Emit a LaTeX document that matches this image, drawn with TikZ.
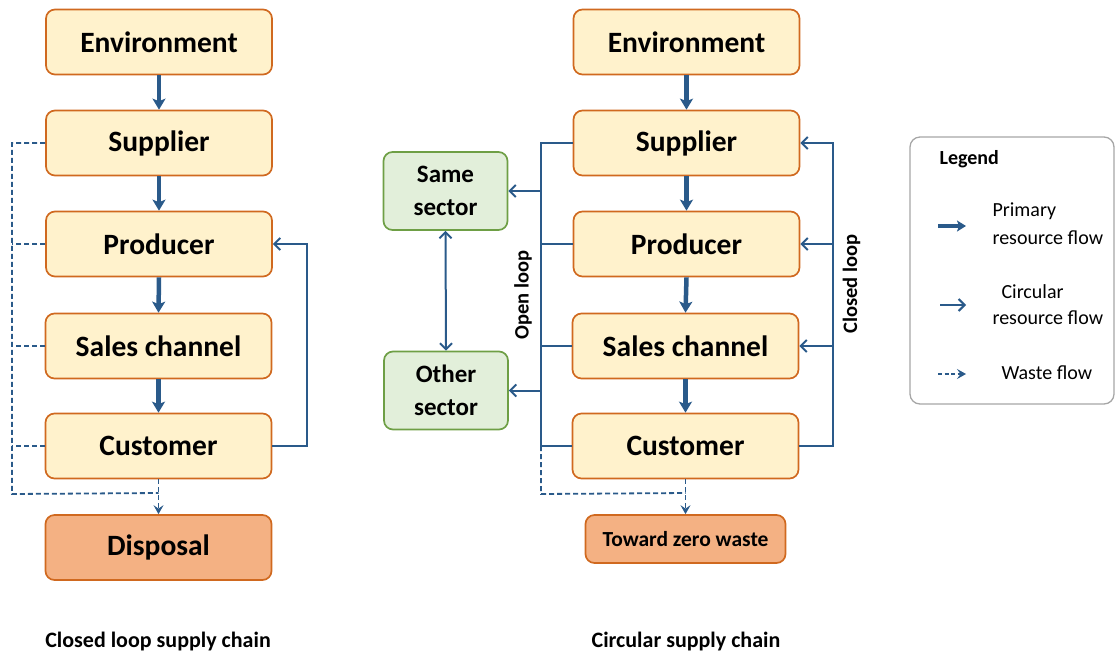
\documentclass[tikz,border=0pt]{standalone}
\usepackage{fontspec}
\setmainfont{Carlito}
\usetikzlibrary{arrows.meta,calc}
\definecolor{boxfill}{HTML}{FFF2CC}
\definecolor{boxline}{HTML}{D0691F}
\definecolor{dispfill}{HTML}{F4B183}
\definecolor{greenfill}{HTML}{E2EFDA}
\definecolor{greenline}{HTML}{6E9F45}
\definecolor{flow}{HTML}{2A5A8A}
\definecolor{legline}{HTML}{A6A6A6}
\tikzset{
  chainbox/.style={draw=boxline, fill=boxfill, line width=1.7pt, rounded corners=9pt,
    minimum width=226pt, minimum height=65pt, inner sep=0pt,
    font=\fontsize{29.5}{32}\selectfont\bfseries},
  dispbox/.style={chainbox, fill=dispfill},
  sectorbox/.style={draw=greenline, fill=greenfill, line width=1.7pt, rounded corners=9pt,
    minimum width=124pt, minimum height=78pt, inner sep=0pt, align=center,
    font=\fontsize{25}{32.5}\selectfont\bfseries},
  primary/.style={draw=flow, line width=4.5pt, -{Stealth[length=11pt,width=13pt,inset=2.5pt]}},
  circline/.style={draw=flow, line width=2pt},
  circ/.style={circline, -{Straight Barb[length=6pt,width=12pt]}},
  waste/.style={draw=flow, line width=1.8pt, dash pattern=on 5pt off 3pt},
  wastearrow/.style={waste, -{Stealth[length=9pt,width=10pt,inset=3.5pt]}},
  looplabel/.style={rotate=90, font=\fontsize{20.5}{24}\selectfont\bfseries},
  title/.style={font=\fontsize{22}{24}\selectfont\bfseries},
  legtext/.style={anchor=west, font=\fontsize{20}{24}\selectfont},
}
\begin{document}
\begin{tikzpicture}[x=1pt,y=-1pt]
\useasboundingbox (0,0) rectangle (1116,657);
% left chain
\node[chainbox] (lenv) at (159,42) {Environment};
\node[chainbox] (lsup) at (159,143) {Supplier};
\node[chainbox] (lpro) at (159,244) {Producer};
\node[chainbox] (lsal) at (158.5,346) {Sales channel};
\node[chainbox] (lcus) at (158.5,446) {Customer};
\node[dispbox] (ldis) at (158.5,547.5) {Disposal};
\draw[primary] (lenv.south) -- (lsup.north);
\draw[primary] (lsup.south) -- (lpro.north);
\draw[primary] (lpro.south) -- (lsal.north);
\draw[primary] (lsal.south) -- (lcus.north);
\coordinate (lwc) at (12,494);
\coordinate (lwj) at (158.5,493);
\draw[waste] (lsup.west) -| (lwc) -- (lwj);
\draw[waste] (lpro.west) -- (lpro.west -| lwc);
\draw[waste] (lsal.west) -- (lsal.west -| lwc);
\draw[waste] (lcus.west) -- (lcus.west -| lwc);
\draw[wastearrow] (lcus.south) -- (ldis.north);
\draw[circ] (lcus.east) -- ++(35,0) |- (lpro.east);
\node[title] (ltitle) at (158,641) {Closed loop supply chain};
% right chain
\node[chainbox] (renv) at (686.5,42) {Environment};
\node[chainbox] (rsup) at (686.5,143) {Supplier};
\node[chainbox] (rpro) at (686.5,244) {Producer};
\node[chainbox] (rsal) at (685.5,346) {Sales channel};
\node[chainbox] (rcus) at (685.5,446) {Customer};
\node[dispbox, minimum width=200pt, minimum height=48pt, font=\fontsize{21.5}{24}\selectfont\bfseries] (rzero) at (685.5,539) {Toward zero waste};
\node[sectorbox] (same) at (445.5,191) {Same\\sector};
\node[sectorbox] (other) at (446,390.5) {Other\\sector};
\draw[primary] (renv.south) -- (rsup.north);
\draw[primary] (rsup.south) -- (rpro.north);
\draw[primary] (rpro.south) -- (rsal.north);
\draw[primary] (rsal.south) -- (rcus.north);
\coordinate (olt) at (541,143);
\coordinate (olb) at (541,446);
\draw[circline] (rsup.west) -| (olb) -- (rcus.west);
\draw[circline] (rpro.west) -- (rpro.west -| olt);
\draw[circline] (rsal.west) -- (rsal.west -| olt);
\draw[circ] (same.east -| olt) -- (same.east);
\draw[circ] (other.east -| olt) -- (other.east);
\draw[circline, {Straight Barb[length=6pt,width=12pt]}-{Straight Barb[length=6pt,width=12pt]}] (same.south) -- (other.north);
\coordinate (clx) at (833,446);
\draw[circ] (rcus.east) -- (clx) |- (rsup.east);
\draw[circ] (rpro.east -| clx) -- (rpro.east);
\draw[circ] (rsal.east -| clx) -- (rsal.east);
\coordinate (rwc) at (541,494);
\coordinate (rwj) at (685.5,493);
\draw[waste] (olb) -- (rwc) -- (rwj);
\draw[wastearrow] (rcus.south) -- (rzero.north);
\node[looplabel] (openlbl) at (523,295) {Open loop};
\node[looplabel] (closedlbl) at (851.5,284) {Closed loop};
\node[title] (rtitle) at (686,641) {Circular supply chain};
% legend
\node[draw=legline, line width=1.3pt, rounded corners=10pt, minimum width=204pt, minimum height=267pt, inner sep=0pt] (legend) at (1012,270.5) {};
\node[anchor=west, font=\fontsize{20}{24}\selectfont\bfseries] (legtitle) at (936,159) {Legend};
\coordinate (pa) at (938,226);
\coordinate (pb) at (966,226);
\draw[draw=flow, line width=4.5pt, -{Stealth[length=9pt,width=11pt,inset=2pt]}] (pa) -- (pb);
\node[legtext] (lt1a) at (989,211) {Primary};
\node[legtext] (lt1b) at (989,238) {resource flow};
\coordinate (ca) at (940,305);
\coordinate (cb) at (966,305);
\draw[circ] (ca) -- (cb);
\node[legtext] (lt2a) at (998,292) {Circular};
\node[legtext] (lt2b) at (989,318) {resource flow};
\coordinate (wa) at (938,374);
\coordinate (wb) at (966,374);
\draw[wastearrow, dash pattern=on 4pt off 2.5pt] (wa) -- (wb);
\node[legtext] (lt3) at (998,373) {Waste flow};
\end{tikzpicture}
\end{document}
